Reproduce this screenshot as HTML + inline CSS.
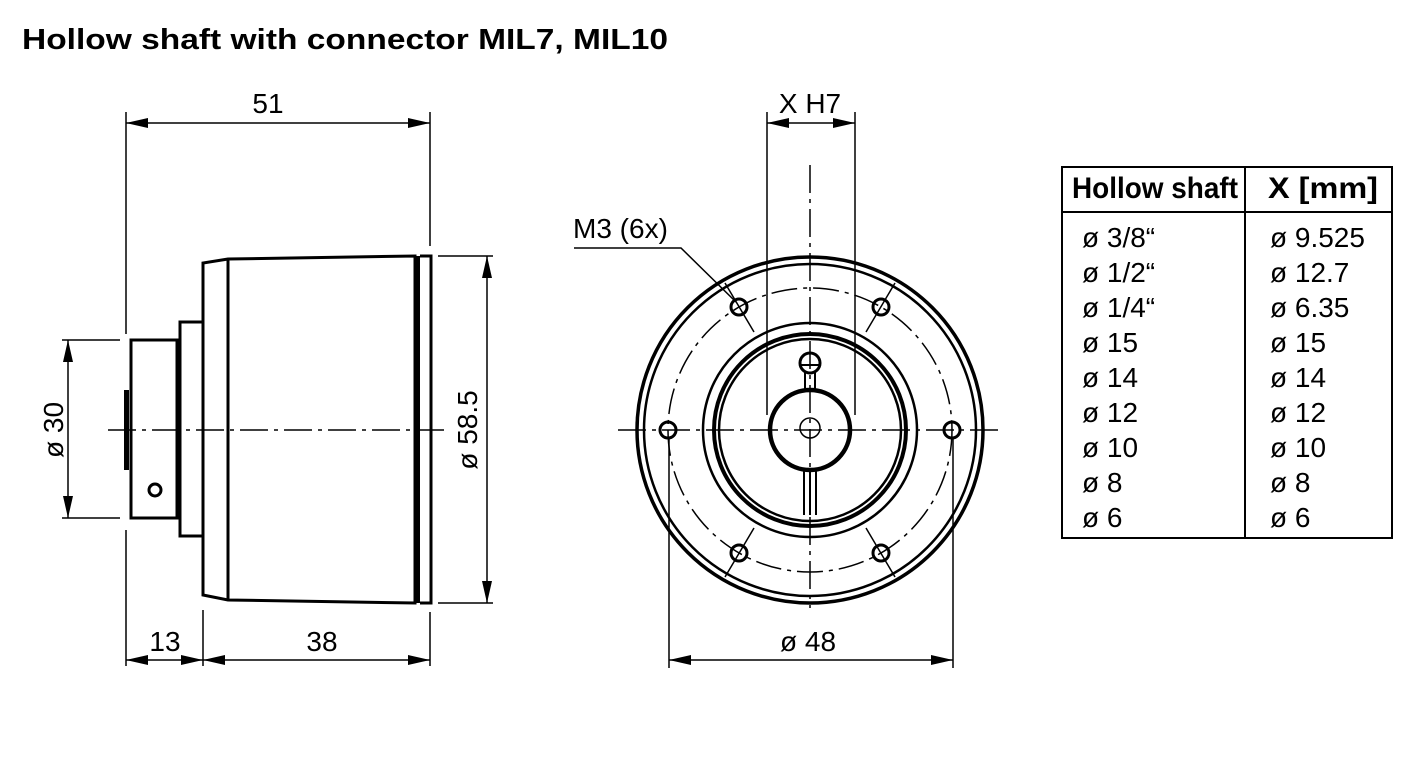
<!DOCTYPE html>
<html><head><meta charset="utf-8"><style>
html,body{margin:0;padding:0;background:#fff;}
svg{display:block;font-family:"Liberation Sans",sans-serif;}
</style></head><body>
<svg width="1418" height="780" viewBox="0 0 1418 780" xmlns="http://www.w3.org/2000/svg">
<defs>
<marker id="a" markerWidth="22" markerHeight="10" refX="22" refY="5" orient="auto-start-reverse" markerUnits="userSpaceOnUse"><path d="M0,0 L22,5 L0,10 Z" fill="#000"/></marker>
</defs>
<text x="22" y="49" font-size="29" font-weight="bold" textLength="646" lengthAdjust="spacingAndGlyphs">Hollow shaft with connector MIL7, MIL10</text>

<g stroke="#000" fill="none" stroke-width="2">
<path d="M203,595 L203,263 L228,259 L415,256 L415,603 L228,600 Z" stroke-width="3"/>
<line x1="228" y1="259" x2="228" y2="600" stroke-width="3"/>
<rect x="415" y="256" width="5" height="347" fill="#000" stroke="none"/>
<path d="M420,256 L431,256 L431,603 L420,603" stroke-width="3"/>
<rect x="180" y="322" width="23" height="214" stroke-width="3"/>
<rect x="131" y="340" width="49" height="178" stroke-width="3"/>
<line x1="178" y1="340" x2="178" y2="518" stroke-width="5"/>
<rect x="124" y="390" width="5" height="80" fill="#000" stroke="none"/>
<circle cx="155" cy="490" r="6" stroke-width="3"/>
<line x1="108" y1="430" x2="445" y2="430" stroke-width="1.5" stroke-dasharray="28,6,4,6"/>

<line x1="126" y1="112" x2="126" y2="334" stroke-width="1.5"/>
<line x1="126" y1="530" x2="126" y2="666" stroke-width="1.5"/>
<line x1="430" y1="112" x2="430" y2="246" stroke-width="1.5"/>
<line x1="430" y1="612" x2="430" y2="666" stroke-width="1.5"/>
<line x1="203" y1="610" x2="203" y2="666" stroke-width="1.5"/>
<line x1="126" y1="123" x2="430" y2="123" stroke-width="1.5" marker-start="url(#a)" marker-end="url(#a)"/>
<line x1="126" y1="660" x2="203" y2="660" stroke-width="1.5" marker-start="url(#a)" marker-end="url(#a)"/>
<line x1="203" y1="660" x2="430" y2="660" stroke-width="1.5" marker-start="url(#a)" marker-end="url(#a)"/>
<line x1="62" y1="340" x2="120" y2="340" stroke-width="1.5"/>
<line x1="62" y1="518" x2="120" y2="518" stroke-width="1.5"/>
<line x1="68" y1="340" x2="68" y2="518" stroke-width="1.5" marker-start="url(#a)" marker-end="url(#a)"/>
<line x1="438" y1="256" x2="493" y2="256" stroke-width="1.5"/>
<line x1="438" y1="603" x2="493" y2="603" stroke-width="1.5"/>
<line x1="487" y1="256" x2="487" y2="603" stroke-width="1.5" marker-start="url(#a)" marker-end="url(#a)"/>

<circle cx="810" cy="430" r="173" stroke-width="3.5"/>
<circle cx="810" cy="430" r="166" stroke-width="2.5"/>
<circle cx="810" cy="430" r="142" stroke-width="1.5" stroke-dasharray="26,6,4,6"/>
<circle cx="810" cy="430" r="107" stroke-width="2.5"/>
<circle cx="810" cy="430" r="96" stroke-width="4"/>
<circle cx="810" cy="430" r="91" stroke-width="2.5"/>
<circle cx="810" cy="430" r="40" stroke-width="4.5"/>
<circle cx="810" cy="428" r="10" stroke-width="1.5"/>
<circle cx="810" cy="363" r="10" stroke-width="3"/>
<line x1="800" y1="365" x2="820" y2="365" stroke-width="2"/>
<path d="M805,372 L805,392 M815,372 L815,392" stroke-width="2"/>
<path d="M804,468 L804,515 M816,468 L816,515 M810,468 L810,515" stroke-width="2"/>
<line x1="618" y1="430" x2="1002" y2="430" stroke-width="1.5" stroke-dasharray="28,6,4,6"/>
<line x1="810" y1="165" x2="810" y2="608" stroke-width="1.5" stroke-dasharray="28,6,4,6"/>
<g stroke-width="3">
<circle cx="952" cy="430" r="8"/><circle cx="668" cy="430" r="8"/>
<circle cx="881" cy="307" r="8"/><circle cx="739" cy="307" r="8"/>
<circle cx="881" cy="553" r="8"/><circle cx="739" cy="553" r="8"/>
</g>
<g stroke-width="1.5">
<line x1="895" y1="283" x2="866" y2="332"/><line x1="725" y1="283" x2="754" y2="332"/>
<line x1="895" y1="577" x2="866" y2="528"/><line x1="725" y1="577" x2="754" y2="528"/>
</g>
<line x1="767" y1="112" x2="767" y2="415" stroke-width="1.5"/>
<line x1="855" y1="112" x2="855" y2="415" stroke-width="1.5"/>
<line x1="767" y1="123" x2="855" y2="123" stroke-width="1.5" marker-start="url(#a)" marker-end="url(#a)"/>
<line x1="669" y1="438" x2="669" y2="668" stroke-width="1.5"/>
<line x1="953" y1="438" x2="953" y2="668" stroke-width="1.5"/>
<line x1="669" y1="660" x2="953" y2="660" stroke-width="1.5" marker-start="url(#a)" marker-end="url(#a)"/>
<path d="M574,248 L681,248 L736,302" stroke-width="1.5"/>

<rect x="1062" y="167" width="330" height="371" stroke-width="2"/>
<line x1="1062" y1="212" x2="1392" y2="212" stroke-width="2"/>
<line x1="1245" y1="167" x2="1245" y2="538" stroke-width="2"/>
</g>

<g font-size="28" fill="#000">
<text x="268" y="113" text-anchor="middle">51</text>
<text x="165" y="651" text-anchor="middle">13</text>
<text x="322" y="651" text-anchor="middle">38</text>
<text transform="translate(63,430) rotate(-90)" text-anchor="middle">ø 30</text>
<text transform="translate(477,430) rotate(-90)" text-anchor="middle">ø 58.5</text>
<text x="810" y="113" text-anchor="middle">X H7</text>
<text x="808" y="651" text-anchor="middle">ø 48</text>
<text x="573" y="238">M3 (6x)</text>
</g>
<g font-size="30" font-weight="bold">
<text x="1072" y="198" textLength="166" lengthAdjust="spacingAndGlyphs">Hollow shaft</text>
<text x="1268" y="198" textLength="110" lengthAdjust="spacingAndGlyphs">X [mm]</text>
</g>
<g font-size="28">
<text x="1082" y="247">ø 3/8“</text><text x="1270" y="247">ø 9.525</text>
<text x="1082" y="282">ø 1/2“</text><text x="1270" y="282">ø 12.7</text>
<text x="1082" y="317">ø 1/4“</text><text x="1270" y="317">ø 6.35</text>
<text x="1082" y="352">ø 15</text><text x="1270" y="352">ø 15</text>
<text x="1082" y="387">ø 14</text><text x="1270" y="387">ø 14</text>
<text x="1082" y="422">ø 12</text><text x="1270" y="422">ø 12</text>
<text x="1082" y="457">ø 10</text><text x="1270" y="457">ø 10</text>
<text x="1082" y="492">ø 8</text><text x="1270" y="492">ø 8</text>
<text x="1082" y="527">ø 6</text><text x="1270" y="527">ø 6</text>
</g>
</svg>
</body></html>
